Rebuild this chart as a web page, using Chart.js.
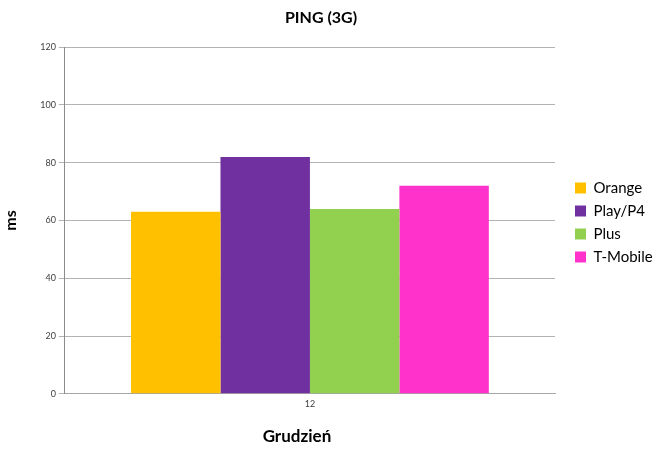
<!DOCTYPE html>
<html lang="pl">
<head>
    <meta charset="UTF-8">
    <title>PING (3G)</title>
    <script src="https://cdn.jsdelivr.net/npm/chart.js"></script>
    <style>
        html, body { margin: 0; padding: 0; background: #fff; }
        #wrap { width: 655px; height: 450px; }
    </style>
</head>
<body>
    <div id="wrap"><canvas id="myChart" width="655" height="450"></canvas></div>
    <script>
        const categories = ['12'];
        const operators = ['Orange', 'Play/P4', 'Plus', 'T-Mobile'];
        const orangeValues = [63];
        const playValues = [82];
        const plusValues = [64];
        const tmobileValues = [72];
        const yTicks = [0, 20, 40, 60, 80, 100, 120];

        const colors = ['#ffc000', '#7030a0', '#92d050', '#ff33cc'];
        const series = [orangeValues, playValues, plusValues, tmobileValues];

        const font = "Lato, 'Open Sans', sans-serif";

        // nudge a layout box when drawn (spreadsheet original isn't perfectly centred)
        function nudge(box, dx, dy) {
            const draw = box.draw.bind(box);
            box.draw = function (area) {
                const c = this.ctx;
                c.save();
                c.translate(dx, dy);
                draw(area);
                c.restore();
            };
        }

        const layoutTweaks = {
            id: 'layoutTweaks',
            beforeLayout(chart) {
                if (chart._tweaked) return;
                const lg = chart.legend;
                const fit = lg.fit.bind(lg);
                lg.fit = function () { fit(); this.width = 100; };
                nudge(lg, 12, -5);
                nudge(chart.titleBlock, -7, 0);
                const x = chart.scales.x;
                const drawTitle = x.drawTitle.bind(x);
                x.drawTitle = function () {
                    const c = this.ctx;
                    c.save();
                    c.translate(-13, 0);
                    drawTitle();
                    c.restore();
                };
                chart._tweaked = true;
            }
        };

        const ctx = document.getElementById('myChart').getContext('2d');
        const myChart = new Chart(ctx, {
            type: 'bar',
            data: {
                labels: categories,
                datasets: operators.map((name, i) => ({
                    label: name,
                    data: series[i],
                    backgroundColor: colors[i],
                    borderWidth: 0,
                    barPercentage: 1.0,
                    categoryPercentage: 0.73
                }))
            },
            options: {
                responsive: false,
                animation: false,
                layout: { padding: { top: 8, right: 0, bottom: 3, left: 1 } },
                scales: {
                    x: {
                        grid: { display: false, drawTicks: false },
                        border: { display: true, color: '#a6a6a6' },
                        ticks: { color: '#404040', font: { family: font, size: 9 }, padding: 5 },
                        title: {
                            display: true,
                            text: 'Grudzień',
                            color: '#000',
                            font: { family: font, size: 17, weight: 'bold' },
                            padding: { top: 12, bottom: 0 }
                        }
                    },
                    y: {
                        min: 0,
                        max: 120,
                        afterBuildTicks: axis => { axis.ticks = yTicks.map(v => ({ value: v })); },
                        grid: { color: '#b3b3b3', tickLength: 6, lineWidth: 1 },
                        border: { display: true, color: '#8c8c8c' },
                        ticks: { color: '#404040', font: { family: font, size: 9 }, padding: 3 },
                        title: {
                            display: true,
                            text: 'ms',
                            color: '#000',
                            font: { family: font, size: 16, weight: 'bold' },
                            padding: { top: 0, bottom: 17 }
                        }
                    }
                },
                plugins: {
                    title: {
                        display: true,
                        text: 'PING (3G)',
                        color: '#000',
                        font: { family: font, size: 16, weight: 'bold' },
                        padding: { top: 0, bottom: 20 }
                    },
                    legend: {
                        position: 'right',
                        labels: {
                            color: '#000',
                            font: { family: font, size: 15 },
                            boxWidth: 11,
                            boxHeight: 11,
                            padding: 8
                        }
                    },
                    tooltip: { enabled: false }
                }
            },
            plugins: [layoutTweaks]
        });
    </script>
</body>
</html>
